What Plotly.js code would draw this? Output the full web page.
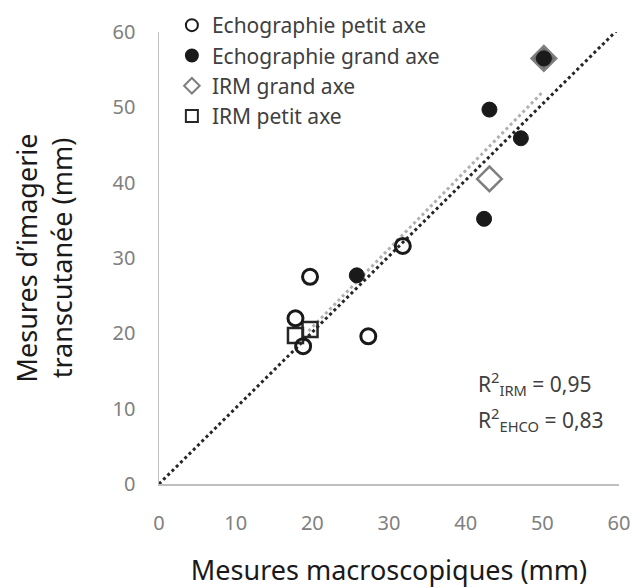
<!DOCTYPE html>
<html><head><meta charset="utf-8">
<script src="https://cdn.plot.ly/plotly-3.0.1.min.js"></script>
<style>body{margin:0;background:#fff}#chart{width:635px;height:588px}</style>
</head><body><div id="chart"></div>
<script>
// Data
const echoPetitX = [19.7, 17.8, 18.8, 27.3, 31.8];
const echoPetitY = [27.5, 22.0, 18.3, 19.6, 31.6];
const echoGrandX = [25.8, 42.4, 43.1, 47.2, 50.2];
const echoGrandY = [27.7, 35.2, 49.7, 45.9, 56.5];
const irmGrandX = [43.1, 50.2];
const irmGrandY = [40.5, 56.5];
const irmPetitX = [17.8, 19.7];
const irmPetitY = [19.7, 20.5];
const trendEchoX = [0, 60];
const trendEchoY = [0, 60.5];
const trendIrmX = [19.5, 50.1];
const trendIrmY = [20.3, 52.1];
const legendNames = ["Echographie petit axe", "Echographie grand axe", "IRM grand axe", "IRM petit axe"];
const r2Labels = ["R<sup>2</sup><sub>IRM</sub> = 0,95", "R<sup>2</sup><sub>EHCO</sub> = 0,83"];
const tickVals = [0, 10, 20, 30, 40, 50, 60];

const font = "Noto Sans, Open Sans, sans-serif";
const traces = [
  {x: trendIrmX, y: trendIrmY, mode: "lines", line: {color: "#b0b0b0", width: 3, dash: "dot"}, showlegend: false, hoverinfo: "skip"},
  {x: trendEchoX, y: trendEchoY, mode: "lines", line: {color: "#262626", width: 3, dash: "dot"}, showlegend: false, hoverinfo: "skip"},
  {x: irmPetitX, y: irmPetitY, mode: "markers", name: legendNames[3], legendrank: 4,
   marker: {symbol: "square", size: 15, color: "rgba(255,255,255,0)", line: {color: "#262626", width: 2.5}}},
  {x: irmGrandX, y: irmGrandY, mode: "markers", name: legendNames[2], legendrank: 3,
   marker: {symbol: "diamond", size: 19, color: ["#ffffff", "#6b6b6b"], line: {color: "#7f7f7f", width: 2.5}}},
  {x: echoPetitX, y: echoPetitY, mode: "markers", name: legendNames[0], legendrank: 1,
   marker: {symbol: "circle", size: 15, color: "rgba(255,255,255,0)", line: {color: "#1a1a1a", width: 3}}},
  {x: echoGrandX, y: echoGrandY, mode: "markers", name: legendNames[1], legendrank: 2,
   marker: {symbol: "circle", size: 15, color: "#1a1a1a", line: {color: "#1a1a1a", width: 1}}}
];

const axisCommon = {
  range: [0, 60], tickvals: tickVals, showgrid: false, zeroline: false,
  showline: true, linecolor: "#bfbfbf", linewidth: 1.5, ticks: "",
  tickfont: {family: font, size: 20, color: "#808080"}, fixedrange: true, automargin: false
};

const layout = {
  width: 635, height: 588,
  margin: {l: 159, r: 16, t: 5, b: 104},
  paper_bgcolor: "#fff", plot_bgcolor: "#fff",
  font: {family: font},
  xaxis: Object.assign({}, axisCommon, {
    ticklabelstandoff: 20,
    title: {text: "Mesures macroscopiques (mm)", font: {family: font, size: 27, color: "#1a1a1a"}, standoff: 26}
  }),
  yaxis: Object.assign({}, axisCommon, {
    domain: [0, 0.9436],
    ticklabelstandoff: 18,
    title: {text: "Mesures d’imagerie<br>transcutanée (mm)", font: {family: font, size: 27, color: "#1a1a1a"}, standoff: 32}
  }),
  legend: {x: 0.028, y: 1, xanchor: "left", yanchor: "top", bgcolor: "rgba(0,0,0,0)",
    font: {family: font, size: 21, color: "#404040"}, tracegroupgap: 0, itemsizing: "constant", itemwidth: 30},
  annotations: [
    {x: 41.4, y: 13.4, xref: "x", yref: "y", xanchor: "left", yanchor: "middle", showarrow: false, text: r2Labels[0], font: {family: font, size: 21, color: "#404040"}},
    {x: 41.4, y: 8.5, xref: "x", yref: "y", xanchor: "left", yanchor: "middle", showarrow: false, text: r2Labels[1], font: {family: font, size: 21, color: "#404040"}}
  ]
};
Plotly.newPlot("chart", traces, layout, {displayModeBar: false, staticPlot: true});
</script></body></html>
